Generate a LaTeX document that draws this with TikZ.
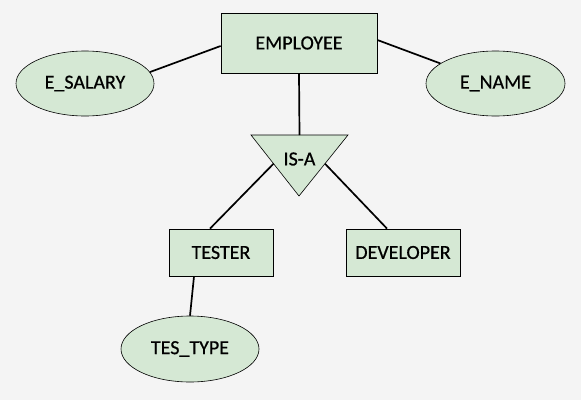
\documentclass[tikz,border=0pt]{standalone}
\usepackage{fontspec}
\setmainfont{Carlito}[FakeBold=0.6]
\usetikzlibrary{shapes.geometric,calc}
\definecolor{bgc}{HTML}{F4F4F4}
\definecolor{gfill}{HTML}{D5E8D4}
\begin{document}
\begin{tikzpicture}[x=1pt,y=-1pt,
  every node/.style={font=\fontsize{20}{22}\selectfont, text=black},
  entity/.style={draw=black, line width=0.8pt, fill=gfill, rectangle, inner sep=0pt},
  attr/.style={draw=black, line width=0.6pt, fill=gfill, ellipse, inner sep=0pt},
  conn/.style={draw=black, line width=1.7pt}]
\fill[bgc] (0,0) rectangle (581,400);
\useasboundingbox (0,0) rectangle (581,400);
% nodes
\node[entity, minimum width=156pt, minimum height=60pt] (emp) at (299,43) {EMPLOYEE};
\node[attr, minimum width=138pt, minimum height=65pt] (sal) at (85,83.5) {E\_SALARY};
\node[attr, minimum width=139pt, minimum height=65pt] (name) at (495.5,83.5) {E\_NAME};
\node[entity, minimum width=104pt, minimum height=47pt] (tester) at (221,252.5) {TESTER};
\node[entity, minimum width=114pt, minimum height=47pt] (dev) at (403,252.5) {DEVELOPER};
\node[attr, minimum width=138pt, minimum height=66pt] (testype) at (190,349) {TES\_TYPE};
% IS-A triangle
\coordinate (isaTL) at (251,135);
\coordinate (isaTR) at (348,135);
\coordinate (isaB) at (299,196);
\coordinate (isaT) at ($(isaTL)!0.5!(isaTR)$);
\coordinate (isaL) at ($(isaTL)!0.47!(isaB)$);
\coordinate (isaR) at ($(isaTR)!0.47!(isaB)$);
\filldraw[fill=gfill, draw=black, line width=0.6pt, line join=miter] (isaTL) -- (isaTR) -- (isaB) -- cycle;
\node (isa) at (299.5,159) {IS-A};
% connectors
\draw[conn] ([yshift=-3pt]emp.west) -- (sal.10);
\draw[conn] ([yshift=3pt]emp.east) -- (name.160);
\draw[conn] (emp.south) -- (isaT);
\draw[conn] (isaL) -- ([xshift=-11pt]tester.north);
\draw[conn] (isaR) -- ([xshift=-16pt]dev.north);
\draw[conn] ([xshift=-27pt]tester.south) -- (testype.north);
\end{tikzpicture}
\end{document}
